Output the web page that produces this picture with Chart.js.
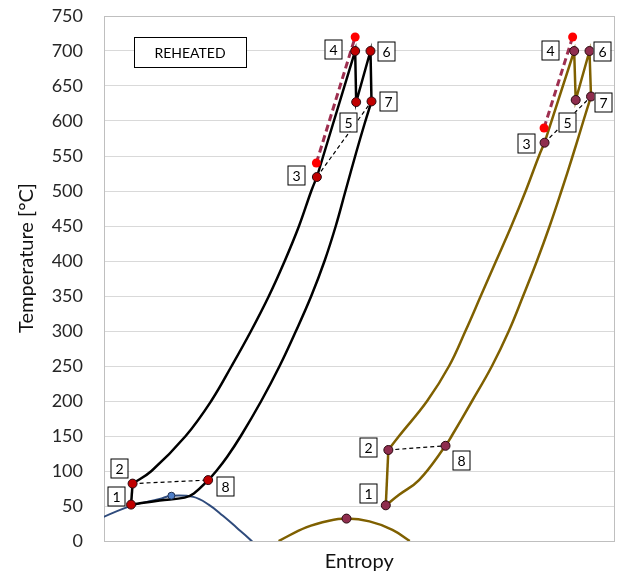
<!DOCTYPE html>
<html>
<head>
<meta charset="utf-8">
<script src="https://cdn.jsdelivr.net/npm/chart.js@4"></script>
<style>
  html, body { margin: 0; padding: 0; background: #fff; }
  #wrap { width: 620px; height: 579px; }
</style>
</head>
<body>
<div id="wrap"><canvas id="tsChart" width="620" height="579"></canvas></div>
<script>
// state numbers shown in the boxed labels
const stateLabels = ['1', '2', '3', '4', '5', '6', '7', '8'];

// left cycle (black line): entropy / temperature at states 1..8
const leftStateS = [0.53, 0.56, 4.17, 4.92, 4.94, 5.22, 5.24, 2.04];
const leftStateT = [52, 82, 520, 700, 627, 700, 628, 87];
// heating 2 -> 3
const leftHeatS = [0.93, 1.60, 2.10, 2.50, 2.88, 3.23, 3.54, 3.82, 4.06];
const leftHeatT = [100, 150, 200, 250, 300, 350, 400, 450, 500];
// low pressure side 1 -> 8
const leftCoolS = [1.09, 1.58, 1.76];
const leftCoolT = [58, 62, 68];
// low pressure side 8 -> 7
const leftExpS = [2.20, 2.41, 2.68, 3.08, 3.44, 3.76, 4.06, 4.32, 4.54, 4.73, 4.94, 5.10];
const leftExpT = [100, 120, 150, 200, 250, 300, 350, 400, 450, 500, 555, 595];
// isentropic end points 3s, 4s
const leftIdealS = [4.16, 4.92];
const leftIdealT = [540, 720];

// right cycle (olive line)
const rightStateS = [5.52, 5.57, 8.63, 9.21, 9.24, 9.51, 9.54, 6.69];
const rightStateT = [51, 130, 569, 700, 630, 700, 635, 136];
const rightHeatS = [5.78, 6.33, 6.76, 7.08, 7.38, 7.68, 7.98, 8.26, 8.52];
const rightHeatT = [150, 200, 250, 300, 350, 400, 450, 500, 550];
const rightCoolS = [5.78, 6.17];
const rightCoolT = [66, 87];
const rightExpS = [6.81, 7.21, 7.60, 7.93, 8.21, 8.48, 8.73, 8.96, 9.18, 9.39];
const rightExpT = [150, 200, 250, 300, 350, 400, 450, 500, 550, 600];
const rightIdealS = [8.62, 9.18];
const rightIdealT = [590, 720];

// saturation domes and their critical points
const blueDomeS = [-0.30, 0.50, 1.09, 1.32, 1.75, 2.05, 2.33, 2.60, 2.85, 3.05];
const blueDomeT = [25, 49.5, 60, 64.7, 63, 52, 36, 19, 3, -12];
const blueCritS = [1.32];
const blueCritT = [64.7];
const brownDomeS = [3.42, 3.96, 4.41, 4.75, 5.20, 5.65, 5.99];
const brownDomeT = [0, 19.5, 29, 32, 28, 16, 0];
const brownCritS = [4.75];
const brownCritT = [32];

// temperature axis
const tempMin = 0;
const tempMax = 750;
const tempStep = 50;

const pts = (s, t) => s.map((x, i) => ({ x: x, y: t[i] }));

const FONT = 'Lato, "Open Sans", sans-serif';

function curve(data, color, width) {
  return {
    data: data, showLine: true, borderColor: color, borderWidth: width,
    pointRadius: 0, tension: 0.4, order: 3
  };
}
function straight(data, color, width, dash) {
  return {
    data: data, showLine: true, borderColor: color, borderWidth: width,
    borderDash: dash || [], pointRadius: 0, tension: 0, order: 2
  };
}

function cycleSets(stS, stT, heatS, heatT, coolS, coolT, expS, expT, idS, idT, lineColor, dotColor, side) {
  const st = i => ({ x: stS[i], y: stT[i] });
  return [
    // 2 -> 3 heating
    curve([st(1), ...pts(heatS, heatT), st(2)], lineColor, 2.5),
    // 1 -> 8 -> 7
    curve([st(0), ...pts(coolS, coolT), st(7), ...pts(expS, expT), st(6)], lineColor, 2.5),
    // pump 1 -> 2
    straight([st(0), st(1)], lineColor, 2.5),
    // 3 -> 4 -> 5 -> 6 -> 7
    straight([st(2), st(3), st(4), st(5), st(6)], lineColor, 2.5),
    // recuperator pairs
    straight([st(1), st(7)], '#000', 1.2, [4, 3]),
    straight([st(2), st(6)], '#000', 1.2, [4, 3]),
    {
      data: pts(idS, idT), showLine: true, borderColor: '#9e2f50', borderWidth: 3,
      borderDash: [7, 4], pointRadius: 4.5, pointBackgroundColor: '#ff0000',
      pointBorderWidth: 0, order: 1
    },
    {
      data: pts(stS, stT), showLine: false, pointRadius: 4.5,
      pointBackgroundColor: dotColor, pointBorderColor: '#2a0a10',
      pointBorderWidth: 1, order: 0, boxSide: side
    }
  ];
}

// label box offsets from each state marker, px
const boxOffsets = {
  left: [[-15, -9], [-14, -16], [-21, -2], [-22, -2], [-8, 20], [16, 0], [16, 0], [17, 6]],
  right: [[-18, -12], [-20, -3], [-19, 0], [-24, -1], [-9, 22], [13, 0], [12, 5], [15, 14]]
};

const decorPlugin = {
  id: 'decor',
  beforeDatasetsDraw(chart) {
    const { ctx, chartArea: a } = chart;
    ctx.save();
    ctx.strokeStyle = '#bfbfbf';
    ctx.lineWidth = 1;
    ctx.strokeRect(Math.round(a.left) + 0.5, Math.round(a.top) + 0.5,
      Math.round(a.right - a.left) - 1, Math.round(a.bottom - a.top));
    ctx.restore();
  },
  afterDatasetsDraw(chart) {
    const { ctx, chartArea: a } = chart;
    ctx.save();
    ctx.textAlign = 'center';
    ctx.textBaseline = 'middle';
    ctx.lineWidth = 1;
    ctx.strokeStyle = '#000';
    chart.data.datasets.forEach((ds, i) => {
      if (!ds.boxSide) return;
      const offs = boxOffsets[ds.boxSide];
      chart.getDatasetMeta(i).data.forEach((el, j) => {
        const cx = Math.round(el.x + offs[j][0]);
        const cy = Math.round(el.y + offs[j][1]);
        const w = 17, h = 19;
        ctx.fillStyle = '#fff';
        ctx.fillRect(cx - w / 2, cy - h / 2, w, h);
        ctx.strokeRect(cx - w / 2 + 0.5, cy - h / 2 + 0.5, w, h);
        ctx.fillStyle = '#000';
        ctx.font = '14px ' + FONT;
        ctx.fillText(stateLabels[j], cx + 0.5, cy + 1);
      });
    });

    // title box
    const bx = a.left + 30, by = a.top + 21, bw = 112, bh = 30;
    ctx.fillStyle = '#fff';
    ctx.fillRect(bx, by, bw, bh);
    ctx.strokeRect(bx + 0.5, by + 0.5, bw, bh);
    ctx.fillStyle = '#000';
    ctx.font = '14px ' + FONT;
    ctx.fillText('REHEATED', bx + bw / 2, by + bh / 2 + 1);

    // y axis title
    ctx.translate(27, 258);
    ctx.rotate(-Math.PI / 2);
    ctx.font = '20px ' + FONT;
    ctx.fillStyle = '#111';
    ctx.fillText('Temperature [°C]', 0, 0);
    ctx.restore();
  }
};

const datasets = [
  ...cycleSets(leftStateS, leftStateT, leftHeatS, leftHeatT, leftCoolS, leftCoolT,
    leftExpS, leftExpT, leftIdealS, leftIdealT, '#000000', '#c00000', 'left'),
  ...cycleSets(rightStateS, rightStateT, rightHeatS, rightHeatT, rightCoolS, rightCoolT,
    rightExpS, rightExpT, rightIdealS, rightIdealT, '#7f6000', '#8f2d4e', 'right'),
  { ...curve(pts(blueDomeS, blueDomeT), '#2f4b7c', 2), order: 4 },
  { ...curve(pts(brownDomeS, brownDomeT), '#7f6000', 2.5), order: 4 },
  {
    data: pts(blueCritS, blueCritT), showLine: false, pointRadius: 3.5,
    pointBackgroundColor: '#4f7fc8', pointBorderColor: '#1f2f50', pointBorderWidth: 1, order: 0
  },
  {
    data: pts(brownCritS, brownCritT), showLine: false, pointRadius: 4.5,
    pointBackgroundColor: '#8f2d4e', pointBorderColor: '#2a0a10', pointBorderWidth: 1, order: 0
  }
];

new Chart(document.getElementById('tsChart'), {
  type: 'scatter',
  data: { datasets: datasets },
  options: {
    responsive: false,
    animation: false,
    layout: { padding: { left: 0, top: 16, right: 4, bottom: 0 } },
    plugins: { legend: { display: false }, tooltip: { enabled: false } },
    scales: {
      x: {
        type: 'linear', min: 0, max: 10,
        grid: { display: false },
        border: { display: false },
        ticks: { display: false },
        title: {
          display: true, text: 'Entropy', color: '#111',
          font: { family: FONT, size: 20 }, padding: { top: 0, bottom: 5 }
        },
        afterFit(scale) { scale.height = 38; }
      },
      y: {
        min: tempMin, max: tempMax,
        grid: { color: '#d9d9d9', lineWidth: 1, drawTicks: true, tickLength: 18, tickColor: 'rgba(0,0,0,0)' },
        border: { display: false },
        ticks: {
          stepSize: tempStep, padding: 3, color: '#262626',
          font: { family: FONT, size: 18 }
        },
        afterFit(scale) { scale.width = 104; }
      }
    }
  },
  plugins: [decorPlugin]
});
</script>
</body>
</html>
